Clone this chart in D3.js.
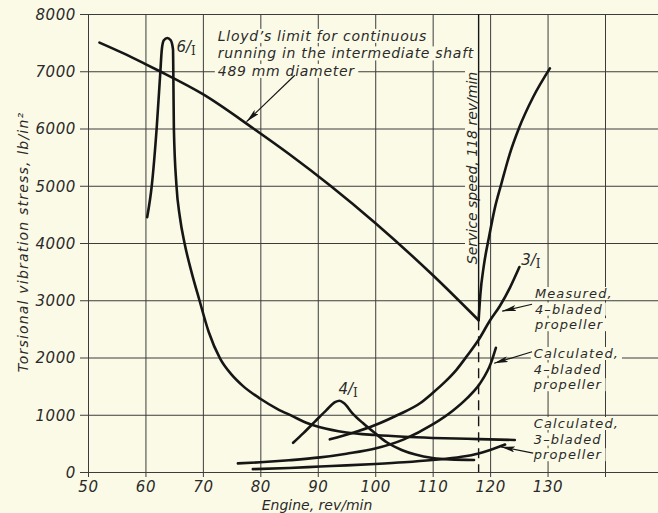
<!DOCTYPE html>
<html>
<head>
<meta charset="utf-8">
<script src="https://cdn.jsdelivr.net/npm/d3@7"></script>
<style>
  body { margin: 0; background: #fbfae6; }
  svg { display: block; font-family: "DejaVu Sans", sans-serif; font-style: italic; }
</style>
</head>
<body>
<svg id="chart" width="658" height="513"></svg>
<script>
// axis ticks
const xTicks = [50, 60, 70, 80, 90, 100, 110, 120, 130];
const xGrid = [50, 60, 70, 80, 90, 100, 110, 120, 130, 140];
const yTicks = [0, 1000, 2000, 3000, 4000, 5000, 6000, 7000, 8000];
const serviceSpeed = 118;

// curves, [rev/min, lb/in2]
const lloydFall = [[52, 7500], [56, 7320], [60, 7125], [62.5, 7000], [70, 6600], [78.8, 6000],
  [85, 5555], [92.2, 5000], [100, 4350], [110, 3440], [118, 2650]];
const lloydRise = [[118, 2650], [118.3, 3100], [118.9, 3600], [119.8, 4100], [120.8, 4600],
  [122.0, 5050], [123.4, 5550], [125.0, 6000], [127.5, 6550], [130.4, 7050]];
const sixI = [[60.3, 4450], [61.1, 5000], [61.95, 6000], [62.6, 7000], [62.85, 7380],
  [63.2, 7540], [63.8, 7580], [64.4, 7540], [64.8, 7380], [64.85, 7000], [64.95, 6000],
  [65.4, 5000], [66.0, 4450], [66.8, 4000], [68, 3500], [69.4, 3000], [71, 2450],
  [73, 1980], [75, 1700], [77, 1500], [80, 1280], [83, 1100], [85.5, 980], [88, 860],
  [90.4, 780], [95, 690], [100, 645], [105, 615], [110, 595], [118, 575], [124.3, 560]];
const fourI = [[85.7, 510], [87.5, 680], [89.5, 880], [91.5, 1080], [93, 1220], [93.8, 1245],
  [94.6, 1200], [96, 1030], [97.9, 850], [100, 675], [102, 520], [104.6, 385], [107, 305],
  [110, 245], [113, 220], [117.2, 210]];
const measured4 = [[92.1, 570], [96, 680], [100, 820], [104, 1000], [107.8, 1200], [110, 1380],
  [112, 1560], [114.1, 1780], [116, 2030], [118, 2310], [120, 2650], [121.7, 2900],
  [123.5, 3230], [125.1, 3580]];
const calc4 = [[76.1, 150], [80, 170], [85, 205], [90.4, 255], [95, 320], [100, 410],
  [105, 570], [110, 830], [113.5, 1070], [116, 1290], [118.2, 1540], [120.2, 1920], [121, 2170]];
const calc3 = [[78.7, 50], [85, 70], [90.4, 95], [95, 115], [100, 140], [105, 170],
  [110, 210], [115, 265], [118, 325], [120, 385], [122.6, 480]];

const W = 658, H = 513;
const bg = "#fbfae6", ink = "#161616", gridInk = "#3c3c3c", textInk = "#2a2a2a";

const x = d3.scaleLinear().domain([50, 140]).range([88, 605]);
const y = d3.scaleLinear().domain([0, 8000]).range([472, 14]);

const svg = d3.select("#chart");
svg.append("rect").attr("width", W).attr("height", H).attr("fill", bg);

// y axis + horizontal grid
const gy = svg.append("g")
  .attr("transform", "translate(" + x(50) + ",0)")
  .call(d3.axisLeft(y).tickValues(yTicks).tickSize(-(W - x(50))).tickPadding(12)
    .tickFormat(d3.format("d")));
gy.select(".domain").remove();
gy.attr("font-family", null).attr("font-size", null);
gy.selectAll(".tick line").attr("x1", -8).attr("stroke", gridInk).attr("stroke-width", 1);
gy.selectAll(".tick text").style("font-size", "15px").attr("fill", textInk)
  .attr("dy", "0.36em").style("letter-spacing", "0.6px");

// x axis + vertical grid
const gx = svg.append("g")
  .attr("transform", "translate(0," + y(0) + ")")
  .call(d3.axisBottom(x).tickValues(xGrid).tickSize(-(y(0) - y(8000))).tickPadding(9)
    .tickFormat(d => xTicks.includes(d) ? d : ""));
gx.select(".domain").remove();
gx.attr("font-family", null).attr("font-size", null);
gx.selectAll(".tick line").attr("y1", 5).attr("stroke", gridInk).attr("stroke-width", 1);
gx.selectAll(".tick text").style("font-size", "15px").attr("fill", textInk)
  .style("letter-spacing", "0.6px");

// axis titles
svg.append("text")
  .attr("transform", "translate(28,242) rotate(-90)")
  .attr("text-anchor", "middle")
  .style("font-size", "14px").style("letter-spacing", "1.2px").attr("fill", textInk)
  .text("Torsional vibration stress, lb/in²");

svg.append("text")
  .attr("x", 317).attr("y", 510)
  .attr("text-anchor", "middle")
  .style("font-size", "14px").attr("fill", textInk)
  .text("Engine, rev/min");

// text block with a paper-coloured patch behind it (breaks the grid)
function label(lines, px, py, lh, size, spacing, rotate) {
  const g = svg.append("g");
  if (rotate) g.attr("transform", "translate(" + px + "," + py + ") rotate(-90)");
  lines.forEach((s, i) => {
    const t = g.append("text")
      .attr("x", rotate ? 0 : px)
      .attr("y", rotate ? 0 : py + i * lh)
      .attr("text-anchor", rotate ? "middle" : "start")
      .style("font-size", size + "px").style("letter-spacing", spacing + "px")
      .attr("fill", textInk)
      .text(s);
    const b = t.node().getBBox();
    g.insert("rect", "text")
      .attr("x", b.x - 3).attr("y", b.y + 1)
      .attr("width", b.width + 6).attr("height", b.height - 2)
      .attr("fill", bg);
  });
}

label(["Lloyd’s limit for continuous", "running in the intermediate shaft", "489 mm diameter"],
  x(72.6), y(7530), 17.5, 14, 0.7);
label(["Service speed, 118 rev/min"], 477, 168, 0, 14, 0, true);
label(["Measured,", "4–bladed", "propeller"], x(127.8), 298, 15.6, 13, 1.1);
label(["Calculated,", "4–bladed", "propeller"], x(127.6), 358, 15.6, 13, 1.1);
label(["Calculated,", "3–bladed", "propeller"], x(127.6), 428, 15.6, 13, 1.1);

// order labels like 6/I
function orderLabel(n, px, py) {
  const t = svg.append("text").attr("x", px).attr("y", py)
    .style("font-size", "15px").attr("fill", textInk);
  t.append("tspan").text(n + "/");
  t.append("tspan").attr("dy", 3).style("font-size", "12px").style("font-style", "normal")
    .attr("font-family", "DejaVu Serif").text("I");
}
orderLabel(6, x(65.4), y(7330));
orderLabel(4, x(93.6), y(1370));
orderLabel(3, x(125.4), y(3620));

// service speed line: solid above the limit line, dashed below
svg.append("line")
  .attr("x1", x(serviceSpeed)).attr("x2", x(serviceSpeed))
  .attr("y1", y(8000)).attr("y2", y(2650))
  .attr("stroke", ink).attr("stroke-width", 1.4);
svg.append("line")
  .attr("x1", x(serviceSpeed)).attr("x2", x(serviceSpeed))
  .attr("y1", y(2650)).attr("y2", y(0))
  .attr("stroke", ink).attr("stroke-width", 1.4).attr("stroke-dasharray", "10,6");

// curves
const line = d3.line()
  .x(d => x(d[0])).y(d => y(d[1]))
  .curve(d3.curveMonotoneX);

[lloydFall, lloydRise, sixI, fourI, measured4, calc4, calc3].forEach(data => {
  svg.append("path")
    .datum(data)
    .attr("d", line)
    .attr("fill", "none")
    .attr("stroke", ink)
    .attr("stroke-width", 2.6)
    .attr("stroke-linecap", "round")
    .attr("stroke-linejoin", "round");
});

// arrows from the labels
svg.append("defs").append("marker")
  .attr("id", "head")
  .attr("viewBox", "0 0 14 6")
  .attr("refX", 14).attr("refY", 3)
  .attr("markerWidth", 14).attr("markerHeight", 6)
  .attr("markerUnits", "userSpaceOnUse")
  .attr("orient", "auto")
  .append("path").attr("d", "M0,0 L14,3 L0,6 L3,3 z").attr("fill", ink);

const arrows = [
  [[86.0, 6930], [77.6, 6120]],
  [[127.3, 2930], [122.1, 2810]],
  [[127.3, 2100], [120.7, 1900]],
  [[127.5, 330], [121.9, 440]]
];
arrows.forEach(a => {
  svg.append("line")
    .attr("x1", x(a[0][0])).attr("y1", y(a[0][1]))
    .attr("x2", x(a[1][0])).attr("y2", y(a[1][1]))
    .attr("stroke", ink).attr("stroke-width", 1.2)
    .attr("marker-end", "url(#head)");
});
</script>
</body>
</html>
